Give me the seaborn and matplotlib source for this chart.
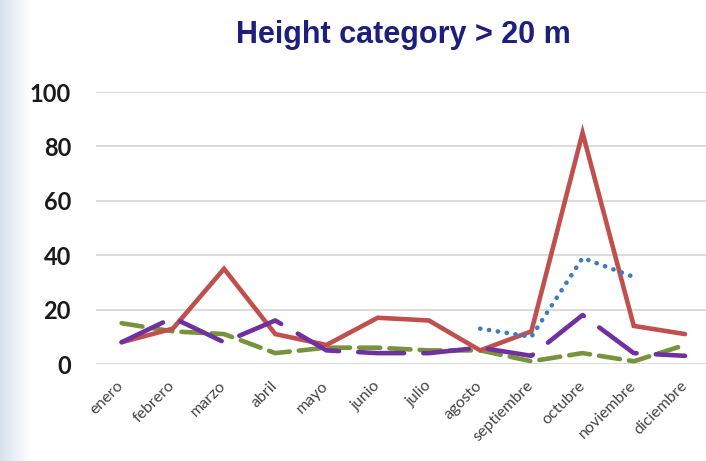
import numpy as np
import pandas as pd
import matplotlib
matplotlib.use("Agg")
import matplotlib.pyplot as plt
import seaborn as sns

months = ["enero", "febrero", "marzo", "abril", "mayo", "junio", "julio",
          "agosto", "septiembre", "octubre", "noviembre", "diciembre"]
red_vals = [8, 13, 35, 11, 7, 17, 16, 5, 12, 85, 14, 11]
blue_vals = [np.nan, np.nan, np.nan, np.nan, np.nan, np.nan, np.nan, 13, 10, 39, 32, np.nan]
purple_vals = [8, 17, 8, 16, 5, 4, 4, 6, 3, 18, 4, 3]
green_vals = [15, 12, 11, 4, 6, 6, 5, 5, 1, 4, 1, 7]
yticks = [0, 20, 40, 60, 80, 100]
title = "Height category > 20 m"

sns.set_theme(style="white")
plt.rcParams['font.family'] = ['Lato', 'DejaVu Sans']

fig = plt.figure(figsize=(7.06, 4.61), dpi=100)
W, H = 706, 461

# light background strip at the left edge
bg = fig.add_axes([0, 0, 30 / W, 1], zorder=-5)
grad = np.linspace(0, 1, 60)[None, :]
bg.imshow(np.repeat(grad, 10, axis=0), aspect="auto", cmap=matplotlib.colors.LinearSegmentedColormap.from_list(
    "g", ["#d6e2ee", "#ffffff"]), extent=[0, 1, 0, 1])
bg.set_axis_off()

ax = fig.add_axes([96 / W, (H - 364) / H, (706 - 96) / W, 272 / H])
ax.set_facecolor("none")

x = np.arange(len(months))
df = pd.DataFrame({"x": x, "red": red_vals, "blue": blue_vals,
                   "purple": purple_vals, "green": green_vals})

lw = 3.3
sns.lineplot(data=df, x="x", y="red", color="#c0504d", linewidth=lw, ax=ax,
             solid_capstyle="round", solid_joinstyle="miter", clip_on=False, zorder=3)
sns.lineplot(data=df.dropna(subset=["blue"]), x="x", y="blue", color="#3d7cc0", linewidth=lw, ax=ax,
             linestyle=(0, (0.05, 1.9)), dash_capstyle="round", clip_on=False, zorder=4)
sns.lineplot(data=df, x="x", y="purple", color="#7030a0", linewidth=lw, ax=ax,
             linestyle=(0, (10, 4.2)), dash_capstyle="round", clip_on=False, zorder=5)
sns.lineplot(data=df, x="x", y="green", color="#77933c", linewidth=lw, ax=ax,
             linestyle=(0, (4.6, 2.0)), dash_capstyle="round", clip_on=False, zorder=2)

ax.set_xlim(-0.5, 11.41)
ax.set_ylim(0, 100)
ax.set_yticks(yticks)
ax.set_yticklabels([str(v) for v in yticks], fontsize=17, fontweight="bold", color="#1a1a1a")
ax.set_xticks(x)
ax.set_xticklabels(months, rotation=45, ha="right", va="center", rotation_mode="anchor",
                   fontsize=11.5, color="#454545")
ax.tick_params(axis="y", length=0, pad=18)
ax.tick_params(axis="x", length=0, pad=14)
ax.grid(axis="y", color="#d9d9d9", linewidth=1.3)
ax.grid(axis="x", visible=False)
for s in ax.spines.values():
    s.set_visible(False)
ax.set_xlabel("")
ax.set_ylabel("")

fig.text(403 / W, 1 - 43 / H, title, ha="center", va="baseline", fontsize=22,
         fontweight="bold", color="#1e1e7c", family=["Liberation Sans", "DejaVu Sans"])

fig.savefig("out.png", dpi=100)
